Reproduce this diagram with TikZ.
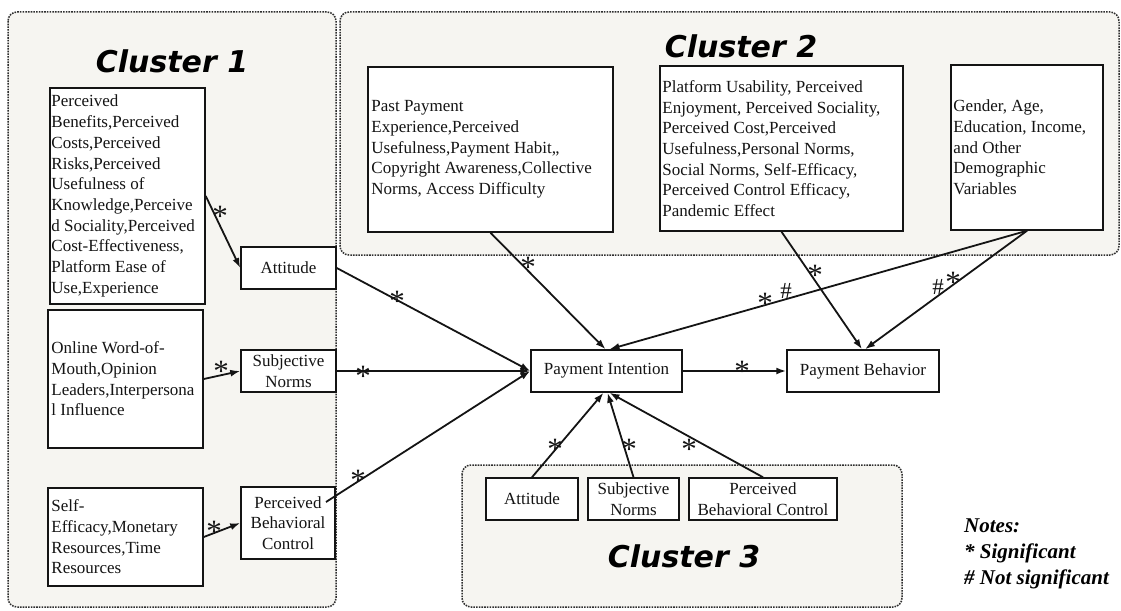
\documentclass[tikz,border=0pt]{standalone}
\usepackage{fontspec}
\setmainfont{Liberation Serif}
\newfontfamily\titlefont{DejaVu Sans}
\usetikzlibrary{arrows.meta}
\definecolor{clusterfill}{HTML}{F6F5F1}
\definecolor{clusterline}{HTML}{2E2E2E}
\definecolor{ink}{HTML}{141414}

\begin{document}
\begin{tikzpicture}[x=1pt,y=-1pt,
  cluster/.style={draw=clusterline, fill=clusterfill, line width=1.5pt,
    dash pattern=on 1.6pt off 1.1pt, rounded corners=9pt},
  box/.style={draw=ink, fill=white, line width=1.5pt, inner sep=0pt, text=ink,
    font=\fontsize{17}{20.7}\selectfont, align=center},
  txt/.style={inner sep=0pt, text=ink, font=\fontsize{17}{20.7}\selectfont,
    align=left, anchor=west},
  link/.style={draw=ink, line width=1.8pt, -{Latex[length=10pt,width=7pt]}},
  sig/.style={inner sep=0pt, text=ink, font=\fontsize{31}{31}\selectfont, yshift=-4pt},
  nsig/.style={inner sep=0pt, text=ink, font=\fontsize{23}{23}\selectfont},
  title/.style={inner sep=0pt, text=black,
    font=\titlefont\bfseries\itshape\fontsize{30}{30}\selectfont},
]
\useasboundingbox (0,0) rectangle (1121,610);

% cluster backgrounds
\draw[cluster] (8,12) rectangle (336,607);
\draw[cluster] (340,12) rectangle (1119,255);
\draw[cluster] (462,465) rectangle (902,607);

\node[title] (t1) at (172,61) {Cluster 1};
\node[title] (t2) at (741,46) {Cluster 2};
\node[title] (t3) at (684,556) {Cluster 3};

% cluster 1 antecedents
\node[box, minimum width=155, minimum height=216] (A) at (127.5,196) {};
\node[txt] (Atext) at ([xshift=2pt]A.west) {Perceived\\Benefits,Perceived\\Costs,Perceived\\Risks,Perceived\\Usefulness of\\Knowledge,Perceive\\d Sociality,Perceived\\Cost-Effectiveness,\\Platform Ease of\\Use,Experience};
\node[box, minimum width=155, minimum height=138] (B) at (125.5,379) {};
\node[txt] (Btext) at ([xshift=4pt]B.west) {Online Word-of-\\Mouth,Opinion\\Leaders,Interpersona\\l Influence};
\node[box, minimum width=155, minimum height=98] (C) at (125.5,537) {};
\node[txt] (Ctext) at ([xshift=4pt]C.west) {Self-\\Efficacy,Monetary\\Resources,Time\\Resources};

\node[box, minimum width=95, minimum height=42] (Atta) at (288.5,268) {Attitude};
\node[box, minimum width=95, minimum height=42] (SNa) at (288.5,371) {Subjective\\Norms};
\node[box, minimum width=94, minimum height=72] (PBCa) at (288,523) {Perceived\\Behavioral\\Control};

% cluster 2 antecedents
\node[box, minimum width=245, minimum height=165] (D) at (490.5,149.5) {};
\node[txt] (Dtext) at ([xshift=4pt]D.west) {Past Payment\\Experience,Perceived\\Usefulness,Payment Habit,,\\Copyright Awareness,Collective\\Norms, Access Difficulty};
\node[box, minimum width=243, minimum height=165] (E) at (781.5,148.5) {};
\node[txt] (Etext) at ([xshift=3pt]E.west) {Platform Usability, Perceived\\Enjoyment, Perceived Sociality,\\Perceived Cost,Perceived\\Usefulness,Personal Norms,\\Social Norms, Self-Efficacy,\\Perceived Control Efficacy,\\Pandemic Effect};
\node[box, minimum width=152, minimum height=165] (F) at (1027,147.5) {};
\node[txt] (Ftext) at ([xshift=3pt]F.west) {Gender, Age,\\Education, Income,\\and Other\\Demographic\\Variables};

% outcomes
\node[box, minimum width=151, minimum height=42] (PI) at (606.5,371) {Payment Intention};
\node[box, minimum width=152, minimum height=42] (PB) at (863,371) {Payment Behavior};

% cluster 3
\node[box, minimum width=92, minimum height=42] (Att3) at (532,499) {Attitude};
\node[box, minimum width=91, minimum height=42] (SN3) at (633.5,499) {Subjective\\Norms};
\node[box, minimum width=148, minimum height=42] (PBC3) at (763,499) {Perceived\\Behavioral Control};

% connectors
\coordinate (pbcexit) at (326,502);
\draw[link] (A.east) -- (Atta.west);
\draw[link] (B.east) -- (SNa.west);
\draw[link] (C.east) -- (PBCa.west);
\draw[link] (Atta.east) -- (PI.west);
\draw[link] (SNa.east) -- (PI.west);
\draw[link] (pbcexit) -- (PI.west);
\draw[link] (D.south) -- ([xshift=-1pt]PI.north);
\draw[link] (F.south) -- ([xshift=3pt]PI.north);
\draw[link] (E.south) -- ([xshift=-1pt]PB.north);
\draw[link] (F.south) -- ([xshift=2pt]PB.north);
\draw[link] (PI.east) -- (PB.west);
\draw[link] (Att3.north) -- ([xshift=-3pt]PI.south);
\draw[link] (SN3.north) -- ([xshift=1pt]PI.south);
\draw[link] (PBC3.north) -- ([xshift=3pt]PI.south);

% significance marks
\node[sig] (s1) at (220,212) {*};
\node[sig] (s2) at (221,367) {*};
\node[sig] (s3) at (214,527) {*};
\node[sig] (s4) at (397,297) {*};
\node[sig] (s5) at (363,372) {*};
\node[sig] (s6) at (358,476) {*};
\node[sig] (s7) at (528,263) {*};
\node[sig] (s8) at (765,299) {*};
\node[nsig] (n8) at (786,291) {\#};
\node[sig] (s9) at (815,271) {*};
\node[nsig] (n10) at (938,287) {\#};
\node[sig] (s10) at (953,278) {*};
\node[sig] (s11) at (742,367) {*};
\node[sig] (s12) at (555,445) {*};
\node[sig] (s13) at (629,445) {*};
\node[sig] (s14) at (689,445) {*};

% legend
\node[inner sep=0pt, anchor=west, align=left, text=black,
  font=\bfseries\itshape\fontsize{21}{26}\selectfont] (notes) at (964,554)
  {Notes:\\* Significant\\\# Not significant};
\end{tikzpicture}
\end{document}
